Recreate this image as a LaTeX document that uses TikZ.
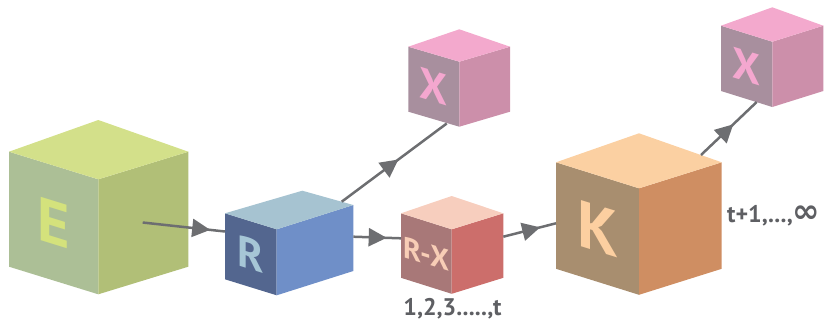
\documentclass[tikz,border=0pt]{standalone}
\usepackage{fontspec}
\setmainfont{PT Sans}
\newfontfamily\symfont{DejaVu Sans}
\usetikzlibrary{calc,arrows.meta,decorations.markings}

% face colours: left / right / top / letter
\definecolor{Eleft}{HTML}{ACBF96}\definecolor{Eright}{HTML}{B1BF77}\definecolor{Etop}{HTML}{D3E08A}\definecolor{Eink}{HTML}{D4E27C}
\definecolor{Rleft}{HTML}{53668F}\definecolor{Rright}{HTML}{6F8FC8}\definecolor{Rtop}{HTML}{A6C3D1}\definecolor{Rink}{HTML}{A6C6D6}
\definecolor{Xleft}{HTML}{A88F9E}\definecolor{Xright}{HTML}{CC8FAA}\definecolor{Xtop}{HTML}{F3A9CD}\definecolor{Xink}{HTML}{F4A7CF}
\definecolor{Dleft}{HTML}{A87878}\definecolor{Dright}{HTML}{CC6E6B}\definecolor{Dtop}{HTML}{F7CEBE}\definecolor{Dink}{HTML}{F8CDB6}
\definecolor{Kleft}{HTML}{A88E6F}\definecolor{Kright}{HTML}{CF8E62}\definecolor{Ktop}{HTML}{FBD0A2}\definecolor{Kink}{HTML}{FCCFA0}
\definecolor{linkgray}{HTML}{6D6E71}
\definecolor{textgray}{HTML}{5E5F63}

\tikzset{
  link/.style={draw=linkgray, line width=2.5pt, postaction={decorate},
    decoration={markings, mark=at position #1 with {\arrow{Triangle[length=18pt,width=18pt]}}}},
  facelabel/.style={inner sep=0pt, yslant=-0.31},
  caption/.style={inner sep=0pt, text=textgray, font=\bfseries\fontsize{24}{24}\selectfont},
}

% #1 name, #2 back-top, #3 left-top, #4 front-top, #5 right-top,
% #6 height, #7 colour stem, #8 letter, #9 letter size
\newcommand\cubeblock[9]{%
  \coordinate (#1-T) at (#2);
  \coordinate (#1-L) at (#3);
  \coordinate (#1-F) at (#4);
  \coordinate (#1-R) at (#5);
  \coordinate (#1-Lb) at ($(#1-L)+(0,#6)$);
  \coordinate (#1-Fb) at ($(#1-F)+(0,#6)$);
  \coordinate (#1-Rb) at ($(#1-R)+(0,#6)$);
  \fill[#7left] (#1-L) -- (#1-F) -- (#1-Fb) -- (#1-Lb) -- cycle;
  \fill[#7right] (#1-F) -- (#1-R) -- (#1-Rb) -- (#1-Fb) -- cycle;
  \fill[#7top] (#1-T) -- (#1-L) -- (#1-F) -- (#1-R) -- cycle;
  \node[facelabel, text=#7ink, font=\bfseries\fontsize{#9}{#9}\selectfont]
    (#1-label) at ($(#1-L)!0.5!(#1-Fb)$) {#8};
}

\begin{document}
\begin{tikzpicture}[x=1pt, y=-1pt]
  \useasboundingbox (0,0) rectangle (830,325);

  \cubeblock{E}{98.3,120}{9,151.7}{98.3,179.3}{188.3,151.7}{115}{E}{E}{62}
  \cubeblock{R}{302.3,190.7}{225,213.3}{276.7,229.3}{353.3,205}{66}{R}{R}{44}
  \cubeblock{X1}{459.3,29.3}{408.3,46.7}{459.3,61.7}{510,46.7}{65}{X}{X}{44}
  \cubeblock{RX}{451.7,196}{401,213.3}{451.7,229.3}{503.3,213.3}{64.5}{D}{R-X}{30}
  \cubeblock{K}{639,133.3}{556,162.3}{639,188.3}{721.7,162.3}{106.5}{K}{K}{66}
  \cubeblock{X2}{772.3,7.3}{721,25.7}{772.3,41.7}{823.3,25.7}{65.3}{X}{X}{44}

  % connector end points
  \coordinate (E-out) at (142.7,222.5);
  \coordinate (R-in) at (225,231.5);
  \coordinate (R-up) at (341.7,201.7);
  \coordinate (X1-in) at (446.7,123.5);
  \coordinate (R-out) at (353.3,236.7);
  \coordinate (RX-in) at (401,238.3);
  \coordinate (RX-out) at (503.3,236.7);
  \coordinate (K-in) at (556,223.3);
  \coordinate (K-up) at (701,155);
  \coordinate (X2-in) at (756.7,102);

  \draw[link=0.82] (E-out) -- (R-in);
  \draw[link=0.54] (R-up) -- (X1-in);
  \draw[link=0.70] (R-out) -- (RX-in);
  \draw[link=0.70] (RX-out) -- (K-in);
  \draw[link=0.58] (K-up) -- (X2-in);

  \node[caption] (steps) at (452.5,309) {1,2,3.....,t};
  \node[caption, anchor=west] (tail) at (727,216) {t+1,...,{\symfont\fontsize{33}{33}\selectfont ∞}};
\end{tikzpicture}
\end{document}
